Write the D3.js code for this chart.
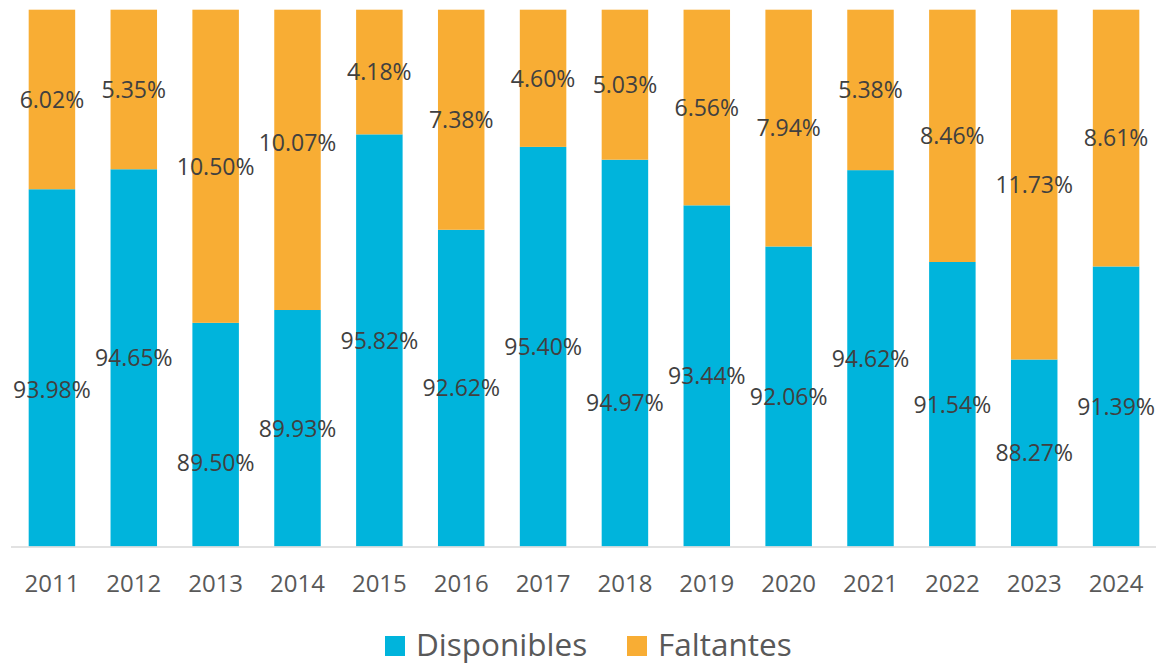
<!DOCTYPE html>
<html>
<head>
<meta charset="utf-8">
<script src="https://cdn.jsdelivr.net/npm/d3@7"></script>
<style>
  body { margin: 0; background: #fff; }
  svg { display: block; font-family: "Open Sans", "Noto Sans", sans-serif; }
</style>
</head>
<body>
<svg id="chart" width="1156" height="664"></svg>
<script>
const years = ["2011", "2012", "2013", "2014", "2015", "2016", "2017", "2018", "2019", "2020", "2021", "2022", "2023", "2024"];
const disponibles = [93.98, 94.65, 89.50, 89.93, 95.82, 92.62, 95.40, 94.97, 93.44, 92.06, 94.62, 91.54, 88.27, 91.39];
const faltantes = [6.02, 5.35, 10.50, 10.07, 4.18, 7.38, 4.60, 5.03, 6.56, 7.94, 5.38, 8.46, 11.73, 8.61];
const seriesNames = ["Disponibles", "Faltantes"];
const colors = ["#00B4DC", "#F8AD34"];

// a few labels were nudged by hand in the original
const labelNudge = { "2011-0": 22, "2013-0": 28, "2018-0": 50, "2014-1": -17 };

const svg = d3.select("#chart");

const x = d3.scaleBand().domain(years).range([11, 1157]).paddingInner(0.432).paddingOuter(0.216);
const y = d3.scaleLinear().domain([82, 100]).range([546.5, 9.7]);

const rows = years.map((yr, i) => ({ year: yr, Disponibles: disponibles[i], Faltantes: faltantes[i] }));
const stacked = d3.stack().keys(seriesNames)(rows);

const layers = svg.append("g").selectAll("g")
  .data(stacked)
  .enter()
  .append("g")
  .attr("fill", (d, i) => colors[i]);

layers.selectAll("rect")
  .data(d => d)
  .enter()
  .append("rect")
  .attr("x", d => x(d.data.year))
  .attr("width", x.bandwidth())
  .attr("y", d => y(Math.min(d[1], 100)))
  .attr("height", d => y(Math.max(d[0], 82)) - y(Math.min(d[1], 100)));

// baseline
svg.append("line")
  .attr("x1", 11).attr("x2", 1156)
  .attr("y1", y(82) + 0.5).attr("y2", y(82) + 0.5)
  .attr("stroke", "#d9d9d9").attr("stroke-width", 1.5);

// data labels
stacked.forEach((layer, si) => {
  svg.append("g").selectAll("text")
    .data(layer)
    .enter()
    .append("text")
    .attr("x", d => x(d.data.year) + x.bandwidth() / 2)
    .attr("y", d => {
      const top = y(Math.min(d[1], 100));
      const bot = y(Math.max(d[0], 82));
      return (top + bot) / 2 + (labelNudge[d.data.year + "-" + si] || 0);
    })
    .attr("dy", "0.36em")
    .attr("text-anchor", "middle")
    .attr("font-size", 23)
    .attr("fill", "#404040")
    .text(d => (d[1] - d[0]).toFixed(2) + "%");
});

// x axis
const xAxis = svg.append("g")
  .attr("transform", `translate(0,${y(82)})`)
  .call(d3.axisBottom(x).tickSize(0).tickPadding(28));
xAxis.select(".domain").remove();
xAxis.selectAll("text")
  .attr("font-size", 24)
  .attr("font-family", "'Open Sans', sans-serif")
  .attr("fill", "#595959");

// legend
const legend = svg.append("g");
const legendX = [385, 627];
seriesNames.forEach((name, i) => {
  legend.append("rect")
    .attr("x", legendX[i]).attr("y", 636)
    .attr("width", 20).attr("height", 20)
    .attr("fill", colors[i]);
  legend.append("text")
    .attr("x", legendX[i] + 31).attr("y", 656)
    .attr("font-size", 31.5)
    .attr("fill", "#595959")
    .text(name);
});
</script>
</body>
</html>
